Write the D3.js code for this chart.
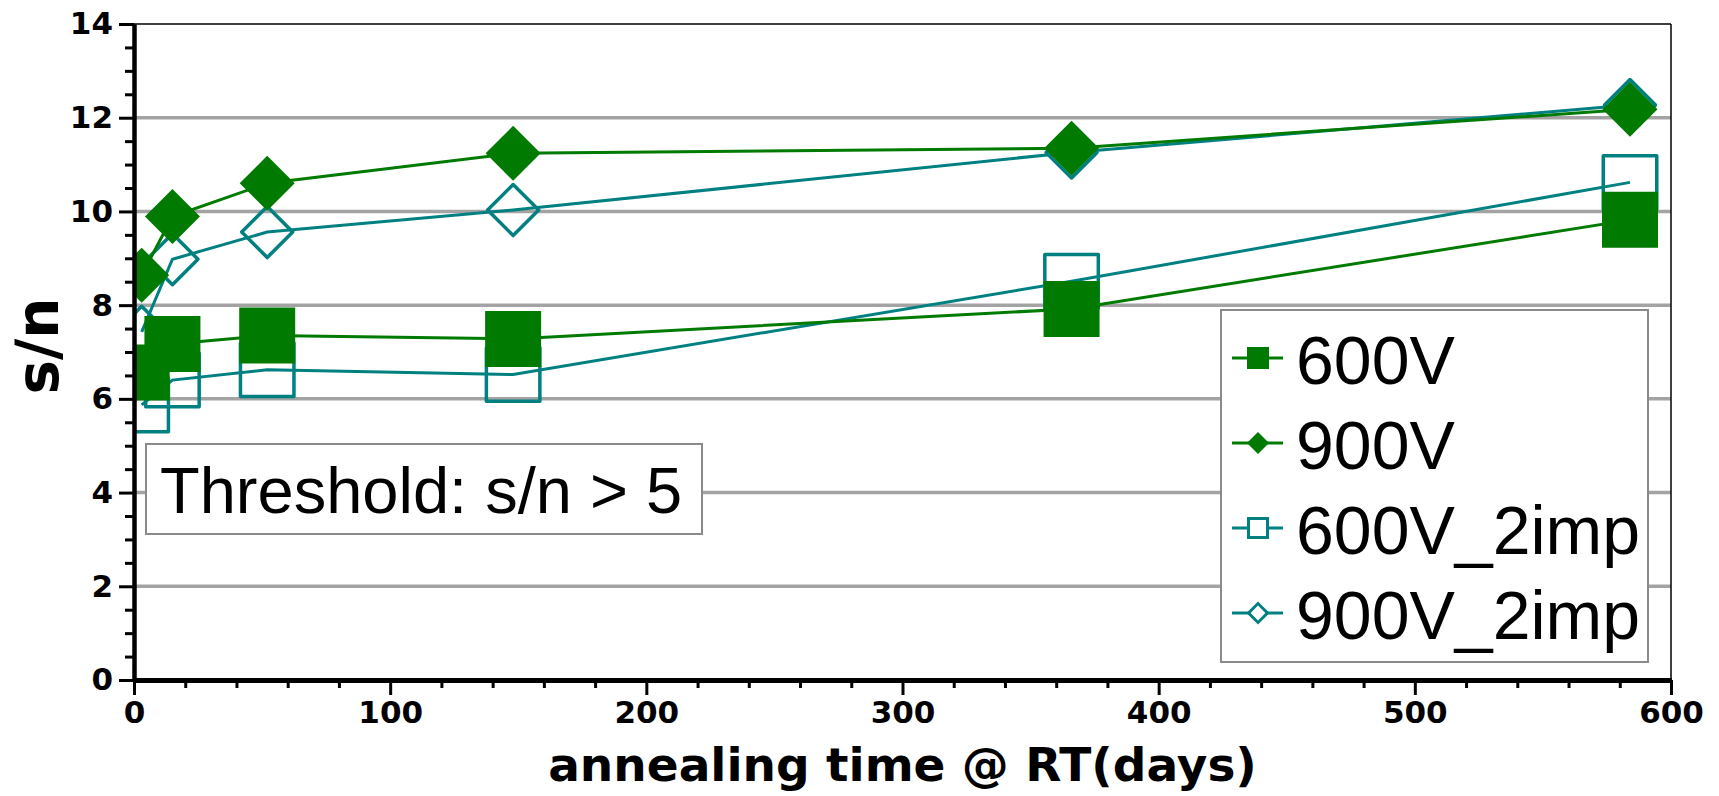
<!DOCTYPE html>
<html>
<head>
<meta charset="utf-8">
<script src="https://cdn.jsdelivr.net/npm/d3@7"></script>
<style>
  body { margin: 0; background: #fff; }
</style>
</head>
<body>
<div id="chart"></div>
<script>
// Data
const days = [3, 15, 52, 148, 366, 584];
const sn600V = [6.56, 7.17, 7.35, 7.28, 7.92, 9.82];
const sn900V = [8.64, 9.89, 10.60, 11.24, 11.35, 12.18];
const sn600V2imp = [5.87, 6.40, 6.62, 6.52, 8.51, 10.62];
const sn900V2imp = [7.43, 8.98, 9.56, 10.03, 11.26, 12.27];
const seriesNames = ['600V', '900V', '600V_2imp', '900V_2imp'];
const xTicks = [0, 100, 200, 300, 400, 500, 600];
const yTicks = [0, 2, 4, 6, 8, 10, 12, 14];
const xTitle = 'annealing time @ RT(days)';
const yTitle = 's/n';
const thresholdText = 'Threshold: s/n > 5';

const green = '#007a00';
const teal = '#008080';

// Series styles, built from the arrays above
const series = [
    { name: seriesNames[0], values: sn600V, color: green, shape: 'square', filled: true },
    { name: seriesNames[1], values: sn900V, color: green, shape: 'diamond', filled: true },
    { name: seriesNames[2], values: sn600V2imp, color: teal, shape: 'square', filled: false },
    { name: seriesNames[3], values: sn900V2imp, color: teal, shape: 'diamond', filled: false }
];

const dims = { width: 1719, height: 796, left: 134, right: 1671, top: 24, bottom: 680 };

const xScale = d3.scaleLinear().domain([0, 600]).range([dims.left, dims.right]);
const yScale = d3.scaleLinear().domain([0, 14]).range([dims.bottom, dims.top]);

const svg = d3.select('#chart')
    .append('svg')
    .attr('width', dims.width)
    .attr('height', dims.height);

svg.append('defs').append('clipPath')
    .attr('id', 'plot-clip')
    .append('rect')
    .attr('x', dims.left)
    .attr('y', dims.top)
    .attr('width', dims.right - dims.left)
    .attr('height', dims.bottom - dims.top);

// Gridlines
svg.append('g')
    .selectAll('line')
    .data(yTicks.filter(d => d > 0 && d < 14))
    .join('line')
    .attr('x1', dims.left)
    .attr('x2', dims.right)
    .attr('y1', d => yScale(d))
    .attr('y2', d => yScale(d))
    .attr('stroke', '#a3a3a3')
    .attr('stroke-width', 3.5);

// Frame top and right
svg.append('line')
    .attr('x1', dims.left).attr('x2', dims.right)
    .attr('y1', yScale(14)).attr('y2', yScale(14))
    .attr('stroke', '#000').attr('stroke-width', 1.5);
svg.append('line')
    .attr('x1', dims.right).attr('x2', dims.right)
    .attr('y1', yScale(14)).attr('y2', yScale(0))
    .attr('stroke', '#000').attr('stroke-width', 1.5);

// symbol helpers (square side / diamond diagonal in px)
const squarePath = side => d3.symbol().type(d3.symbolSquare).size(side * side)();
const diamondPath = diag => d3.symbol().type(d3.symbolSquare).size(diag * diag / 2)();

const plot = svg.append('g').attr('clip-path', 'url(#plot-clip)');

const line = d3.line()
    .x((d, i) => xScale(days[i]))
    .y(d => yScale(d));

// teal series first, green on top
const drawOrder = [series[2], series[3], series[0], series[1]];

drawOrder.forEach(s => {
    const g = plot.append('g');
    g.append('path')
        .attr('d', line(s.values))
        .attr('fill', 'none')
        .attr('stroke', s.color)
        .attr('stroke-width', 3);

    let path;
    if (s.shape === 'square') path = s.filled ? squarePath(56) : squarePath(53.5);
    else path = s.filled ? diamondPath(55) : diamondPath(51);

    g.selectAll('path.mark')
        .data(s.values)
        .join('path')
        .attr('class', 'mark')
        .attr('d', path)
        .attr('transform', (d, i) => `translate(${xScale(days[i])},${yScale(d)})` + (s.shape === 'diamond' ? ' rotate(45)' : ''))
        .attr('fill', s.filled ? s.color : 'none')
        .attr('stroke', s.filled ? 'none' : s.color)
        .attr('stroke-width', 3.5)
        .attr('stroke-linejoin', 'round');
});

// Axes
const yAxis = d3.axisLeft(yScale)
    .tickValues(yTicks)
    .tickSize(15)
    .tickSizeOuter(0)
    .tickPadding(6);

const yMinor = d3.axisLeft(yScale)
    .tickValues(d3.range(0, 14.01, 0.5).filter(d => d % 2 !== 0))
    .tickSize(9)
    .tickSizeOuter(0)
    .tickFormat('');

const xAxis = d3.axisBottom(xScale)
    .tickValues(xTicks)
    .tickSize(15)
    .tickSizeOuter(0)
    .tickPadding(6);

const xMinor = d3.axisBottom(xScale)
    .tickValues(d3.range(0, 601, 20).filter(d => d % 100 !== 0))
    .tickSize(8)
    .tickSizeOuter(0)
    .tickFormat('');

const styleAxis = (g, w) => {
    g.selectAll('.tick line').attr('stroke', '#000').attr('stroke-width', 3);
    g.select('.domain').attr('stroke', '#000').attr('stroke-width', w);
    g.selectAll('.tick text')
        .attr('fill', '#000')
        .style('font-family', '"DejaVu Sans", Verdana, sans-serif')
        .style('font-weight', 'bold')
        .style('font-size', '31px');
};

svg.append('g')
    .attr('transform', `translate(${dims.left},0)`)
    .call(yMinor)
    .call(g => styleAxis(g, 4));

svg.append('g')
    .attr('transform', `translate(${dims.left},0)`)
    .call(yAxis)
    .call(g => styleAxis(g, 4));

svg.append('g')
    .attr('transform', `translate(0,${dims.bottom})`)
    .call(xMinor)
    .call(g => styleAxis(g, 5));

svg.append('g')
    .attr('transform', `translate(0,${dims.bottom})`)
    .call(xAxis)
    .call(g => styleAxis(g, 5));

// Axis titles
svg.append('text')
    .attr('x', (dims.left + dims.right) / 2)
    .attr('y', 781)
    .attr('text-anchor', 'middle')
    .style('font-family', '"DejaVu Sans", Verdana, sans-serif')
    .style('font-weight', 'bold')
    .style('font-size', '47px')
    .text(xTitle);

svg.append('text')
    .attr('transform', `translate(58,346) rotate(-90)`)
    .attr('text-anchor', 'middle')
    .style('font-family', '"DejaVu Sans", Verdana, sans-serif')
    .style('font-weight', 'bold')
    .style('font-size', '58px')
    .text(yTitle);

// Threshold box
const thr = svg.append('g');
thr.append('rect')
    .attr('x', 146).attr('y', 444)
    .attr('width', 556).attr('height', 90)
    .attr('fill', '#fff')
    .attr('stroke', '#8a8a8a')
    .attr('stroke-width', 2);
thr.append('text')
    .attr('x', 160).attr('y', 513)
    .style('font-family', '"Liberation Sans", Arial, sans-serif')
    .style('font-size', '65px')
    .text(thresholdText);

// Legend
const legend = svg.append('g');
legend.append('rect')
    .attr('x', 1221).attr('y', 310)
    .attr('width', 427).attr('height', 352)
    .attr('fill', '#fff')
    .attr('stroke', '#8a8a8a')
    .attr('stroke-width', 2);

const rows = legend.selectAll('g.row')
    .data(series)
    .join('g')
    .attr('class', 'row')
    .attr('transform', (d, i) => `translate(0,${358 + i * 85})`);

rows.append('line')
    .attr('x1', 1232).attr('x2', 1283)
    .attr('y1', 0).attr('y2', 0)
    .attr('stroke', d => d.color)
    .attr('stroke-width', 3);

rows.append('path')
    .attr('d', d => d.shape === 'square' ? squarePath(d.filled ? 22 : 19) : diamondPath(d.filled ? 22 : 19))
    .attr('transform', d => 'translate(1258,0)' + (d.shape === 'diamond' ? ' rotate(45)' : ''))
    .attr('fill', d => d.filled ? d.color : '#fff')
    .attr('stroke', d => d.filled ? 'none' : d.color)
    .attr('stroke-width', 3);

rows.append('text')
    .attr('x', 1296)
    .attr('y', 26)
    .style('font-family', '"Liberation Sans", Arial, sans-serif')
    .style('font-size', '68px')
    .text(d => d.name);
</script>
</body>
</html>
